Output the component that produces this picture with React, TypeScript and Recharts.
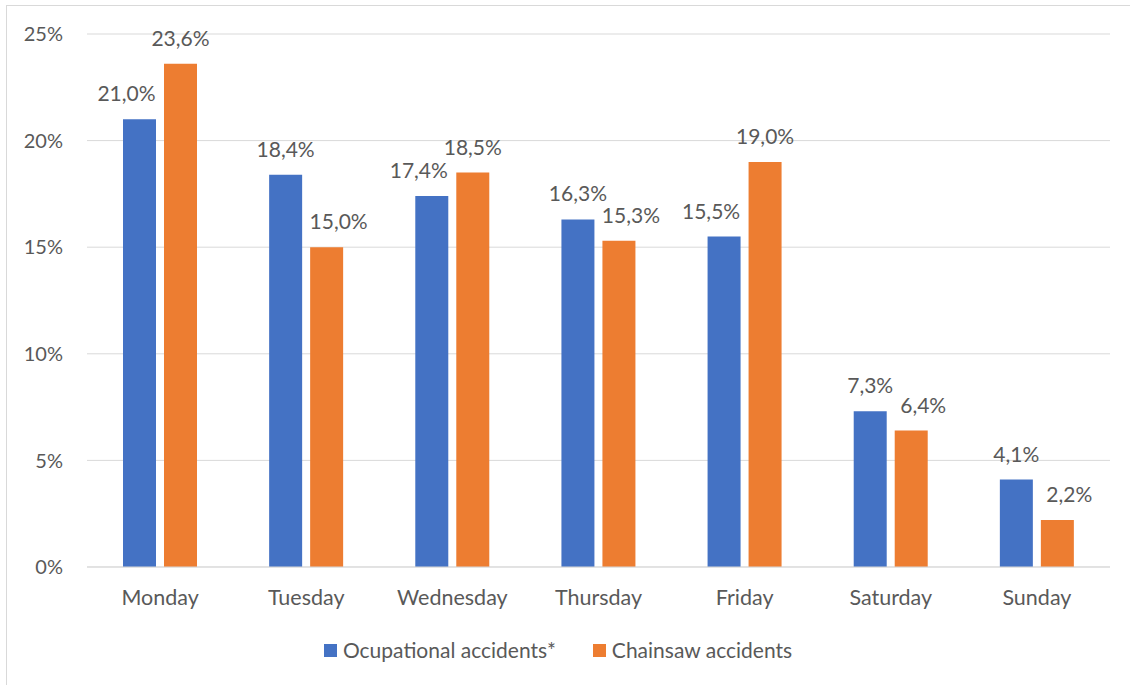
import React from "react";
import { Bar, BarChart, CartesianGrid, LabelList, Legend, XAxis, YAxis } from "recharts";

const days = ["Monday", "Tuesday", "Wednesday", "Thursday", "Friday", "Saturday", "Sunday"];
const occupational = [21.0, 18.4, 17.4, 16.3, 15.5, 7.3, 4.1];
const chainsaw = [23.6, 15.0, 18.5, 15.3, 19.0, 6.4, 2.2];
const yTicks = [0, 5, 10, 15, 20, 25];

const BLUE = "#4472C4";
const ORANGE = "#ED7D31";
const TEXT = "#595959";
const GRID = "#d9d9d9";
const FONT = "Lato, 'Open Sans', sans-serif";

const chartData = days.map((day, i) => ({
  day,
  occupational: occupational[i],
  chainsaw: chainsaw[i],
}));

const pct = (v: number) => v.toFixed(1).replace(".", ",") + "%";

// labels nudge sideways when the neighbouring bar is taller, like Excel does
function makeLabel(series: "occupational" | "chainsaw") {
  return (props: any) => {
    const { x, y, width, index, value } = props;
    const other = series === "occupational" ? chainsaw[index] : occupational[index];
    let dx = 0;
    if (series === "occupational" && other > value) dx = -13;
    if (series === "chainsaw" && other > value) dx = 12;
    return (
      <text
        x={Number(x) + Number(width) / 2 + dx}
        y={Number(y) - 18}
        textAnchor="middle"
        fill={TEXT}
        fontSize={21}
        fontFamily={FONT}
      >
        {pct(Number(value))}
      </text>
    );
  };
}

function LegendContent() {
  const item = (color: string, label: string) => (
    <div style={{ display: "flex", alignItems: "center", gap: 6 }}>
      <span style={{ width: 13, height: 13, background: color, display: "inline-block" }} />
      <span>{label}</span>
    </div>
  );
  return (
    <div
      style={{
        display: "flex",
        justifyContent: "center",
        gap: 37,
        paddingRight: 14,
        fontFamily: FONT,
        fontSize: 21,
        color: TEXT,
        lineHeight: "28px",
      }}
    >
      {item(BLUE, "Ocupational accidents*")}
      {item(ORANGE, "Chainsaw accidents")}
    </div>
  );
}

export default function App() {
  return (
    <div style={{ position: "relative", width: 1130, height: 685, background: "#fff", overflow: "hidden" }}>
      <style>{`body{margin:0}`}</style>
      <div
        style={{
          position: "absolute",
          left: 6,
          top: 5,
          width: 1140,
          height: 700,
          borderTop: `1px solid ${GRID}`,
          borderLeft: `1px solid ${GRID}`,
        }}
      />
      <BarChart
        width={1130}
        height={685}
        data={chartData}
        margin={{ top: 34, right: 20, left: 27, bottom: 88 }}
        barSize={33}
        barGap={8}
      >
        <CartesianGrid stroke={GRID} vertical={false} />
        <XAxis
          dataKey="day"
          height={30}
          axisLine={{ stroke: GRID }}
          tickLine={false}
          tickSize={0}
          tickMargin={23}
          tick={{ fill: TEXT, fontSize: 21.5, fontFamily: FONT }}
          interval={0}
        />
        <YAxis
          width={60}
          domain={[0, 25]}
          ticks={yTicks}
          tickFormatter={(v: number) => `${v}%`}
          axisLine={false}
          tickLine={false}
          tickSize={0}
          tickMargin={24}
          tick={{ fill: TEXT, fontSize: 20, fontFamily: FONT }}
        />
        <Legend
          layout="horizontal"
          verticalAlign="middle"
          align="center"
          wrapperStyle={{ top: 636, left: 0, width: 1130 }}
          content={() => <LegendContent />}
        />
        <Bar dataKey="occupational" name="Ocupational accidents*" fill={BLUE} isAnimationActive={false}>
          <LabelList dataKey="occupational" content={makeLabel("occupational")} />
        </Bar>
        <Bar dataKey="chainsaw" name="Chainsaw accidents" fill={ORANGE} isAnimationActive={false}>
          <LabelList dataKey="chainsaw" content={makeLabel("chainsaw")} />
        </Bar>
      </BarChart>
    </div>
  );
}
